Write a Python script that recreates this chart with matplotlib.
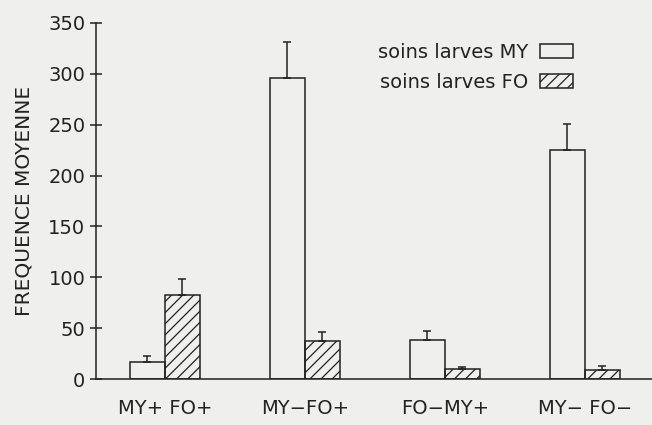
import numpy as np
import matplotlib
matplotlib.use("Agg")
import matplotlib.pyplot as plt

# groups and values
groups = ["MY+ FO+", "MY\u2212FO+", "FO\u2212MY+", "MY\u2212 FO\u2212"]
soins_my = [16.5, 296, 38, 225]
err_my = [6.5, 35, 9, 26]
soins_fo = [83, 37, 10, 9]
err_fo = [15, 9, 2, 4]
yticks = [0, 50, 100, 150, 200, 250, 300, 350]

ink = "#222222"
bg = "#efefed"
plt.rcParams['font.family'] = ['DejaVu Sans']
plt.rcParams['hatch.color'] = ink
plt.rcParams['hatch.linewidth'] = 0.9

fig = plt.figure(figsize=(6.52, 4.25), dpi=100, facecolor=bg)
ax = fig.add_axes([0.147, 0.108, 0.853, 0.838])
ax.set_facecolor(bg)

x = np.arange(len(groups))
w = 0.25

ax.bar(x - w/2, soins_my, w, facecolor="none", edgecolor=ink, linewidth=1.1,
       label="soins larves MY")
ax.bar(x + w/2, soins_fo, w, facecolor="none", edgecolor=ink, linewidth=1.1,
       hatch="///", label="soins larves FO")

ax.errorbar(x - w/2, soins_my, yerr=[np.zeros(len(x)), err_my], fmt="none",
            ecolor=ink, elinewidth=1.1, capsize=3.2, capthick=1.1)
ax.errorbar(x + w/2, soins_fo, yerr=[np.zeros(len(x)), err_fo], fmt="none",
            ecolor=ink, elinewidth=1.1, capsize=3.2, capthick=1.1)

ax.set_xlim(-0.493, 3.479)
ax.set_ylim(0, 350)
ax.set_yticks(yticks)
ax.set_xticks(x)
ax.set_xticklabels(groups, fontsize=14, color=ink)
ax.tick_params(axis="x", length=0, pad=14)
ax.tick_params(axis="y", direction="inout", length=9, width=1.1, colors=ink,
               labelsize=14, pad=3)

for s in ["top", "right"]:
    ax.spines[s].set_visible(False)
for s in ["left", "bottom"]:
    ax.spines[s].set_color(ink)
    ax.spines[s].set_linewidth(1.1)

ax.set_ylabel("FREQUENCE MOYENNE", fontsize=14.5, color=ink, labelpad=11)

ax.legend(loc="upper right", bbox_to_anchor=(0.876, 0.971), frameon=False,
          markerfirst=False, fontsize=14, handlelength=1.7, handleheight=0.7,
          handletextpad=0.6, labelspacing=0.55, borderpad=0, labelcolor=ink)

fig.savefig("out.png", dpi=100, facecolor=bg)
